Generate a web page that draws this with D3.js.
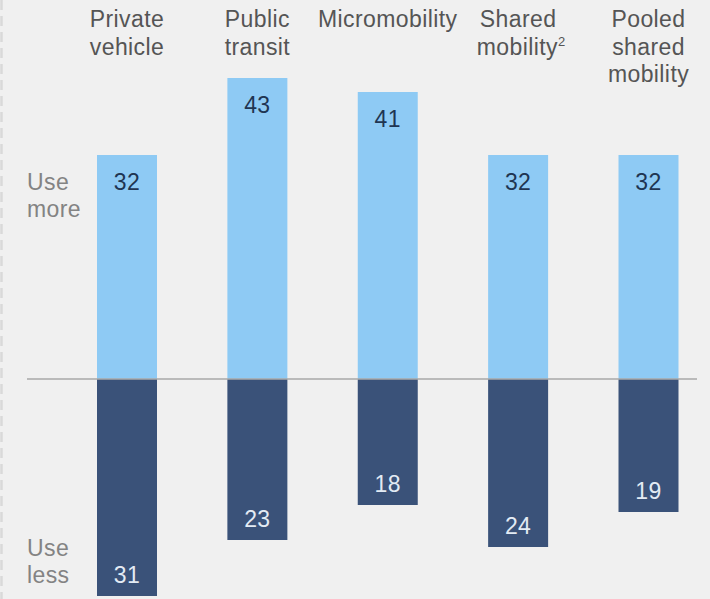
<!DOCTYPE html>
<html>
<head>
<meta charset="utf-8">
<script src="https://cdn.jsdelivr.net/npm/d3@7/dist/d3.min.js"></script>
<style>
  html, body { margin: 0; padding: 0; background: #f0f0f0; }
  svg { display: block; }
</style>
</head>
<body>
<svg id="chart" width="710" height="599"></svg>
<script>
// Categories (header lines) and the share of respondents in each direction
const categories = ["Private vehicle", "Public transit", "Micromobility", "Shared mobility", "Pooled shared mobility"];
const headerLines = [
  ["Private", "vehicle"],
  ["Public", "transit"],
  ["Micromobility"],
  ["Shared", "mobility"],
  ["Pooled", "shared", "mobility"]
];
const headerNotes = [null, null, null, "2", null];
const useMore = [32, 43, 41, 32, 32];
const useLess = [31, 23, 18, 24, 19];
const sideLabels = { more: ["Use", "more"], less: ["Use", "less"] };

const W = 710, H = 599;
const svg = d3.select("#chart");
const font = "'Liberation Sans', Arial, Helvetica, sans-serif";
const fs = 23;
const ls = "0.4px";

svg.append("rect").attr("width", W).attr("height", H).attr("fill", "#f0f0f0");

// dashed rule along the left edge
svg.append("line")
  .attr("x1", 1.5).attr("x2", 1.5).attr("y1", 0).attr("y2", H)
  .attr("stroke", "#d9d9d9").attr("stroke-width", 2.5)
  .attr("stroke-dasharray", "10,6");

const x = d3.scalePoint().domain(categories).range([127, 648.5]);
const y = d3.scaleLinear().domain([-35, 45]).range([624, 64]);
const barW = 60;

const lightBlue = "#8ecaf4";
const darkBlue = "#3a5279";

const g = svg.append("g");

// positive ("use more") bars
g.selectAll("rect.more").data(categories).join("rect")
  .attr("class", "more")
  .attr("x", d => x(d) - barW / 2)
  .attr("width", barW)
  .attr("y", (d, i) => y(useMore[i]))
  .attr("height", (d, i) => y(0) - y(useMore[i]))
  .attr("fill", lightBlue);

// negative ("use less") bars
g.selectAll("rect.less").data(categories).join("rect")
  .attr("class", "less")
  .attr("x", d => x(d) - barW / 2)
  .attr("width", barW)
  .attr("y", y(0))
  .attr("height", (d, i) => y(-useLess[i]) - y(0))
  .attr("fill", darkBlue);

// zero line
svg.append("line")
  .attr("x1", 27).attr("x2", 697)
  .attr("y1", y(0)).attr("y2", y(0))
  .attr("stroke", "#a8a8a8").attr("stroke-width", 1.5);

// value labels
g.selectAll("text.vmore").data(categories).join("text")
  .attr("class", "vmore")
  .attr("x", d => x(d))
  .attr("y", (d, i) => y(useMore[i]) + 35)
  .attr("text-anchor", "middle")
  .attr("font-family", font).attr("font-size", fs).attr("letter-spacing", ls)
  .attr("fill", "#1f3552")
  .text((d, i) => useMore[i]);

g.selectAll("text.vless").data(categories).join("text")
  .attr("class", "vless")
  .attr("x", d => x(d))
  .attr("y", (d, i) => y(-useLess[i]) - 13)
  .attr("text-anchor", "middle")
  .attr("font-family", font).attr("font-size", fs).attr("letter-spacing", ls)
  .attr("fill", "#e3ebf4")
  .text((d, i) => useLess[i]);

// column headers
const headers = svg.selectAll("text.header").data(categories).join("text")
  .attr("class", "header")
  .attr("text-anchor", "middle")
  .attr("font-family", font).attr("font-size", fs).attr("letter-spacing", ls)
  .attr("fill", "#555555");

headers.each(function(d, i) {
  const t = d3.select(this);
  headerLines[i].forEach((line, j) => {
    const isLast = j === headerLines[i].length - 1;
    const ts = t.append("tspan")
      .attr("x", x(d) - (isLast && headerNotes[i] ? -3 : 0))
      .attr("y", 27 + j * 27.5);
    ts.append("tspan").text(line);
    if (isLast && headerNotes[i]) {
      ts.append("tspan")
        .attr("font-size", 13)
        .attr("dy", -9)
        .text(headerNotes[i]);
    }
  });
});

// side labels
function sideLabel(lines, baseY) {
  const t = svg.append("text")
    .attr("font-family", font).attr("font-size", fs).attr("letter-spacing", ls)
    .attr("fill", "#838383");
  lines.forEach((line, j) => {
    t.append("tspan").attr("x", 27).attr("y", baseY + j * 27).text(line);
  });
}
sideLabel(sideLabels.more, y(useMore[0]) + 35);
sideLabel(sideLabels.less, y(-useLess[0]) - 40);
</script>
</body>
</html>
